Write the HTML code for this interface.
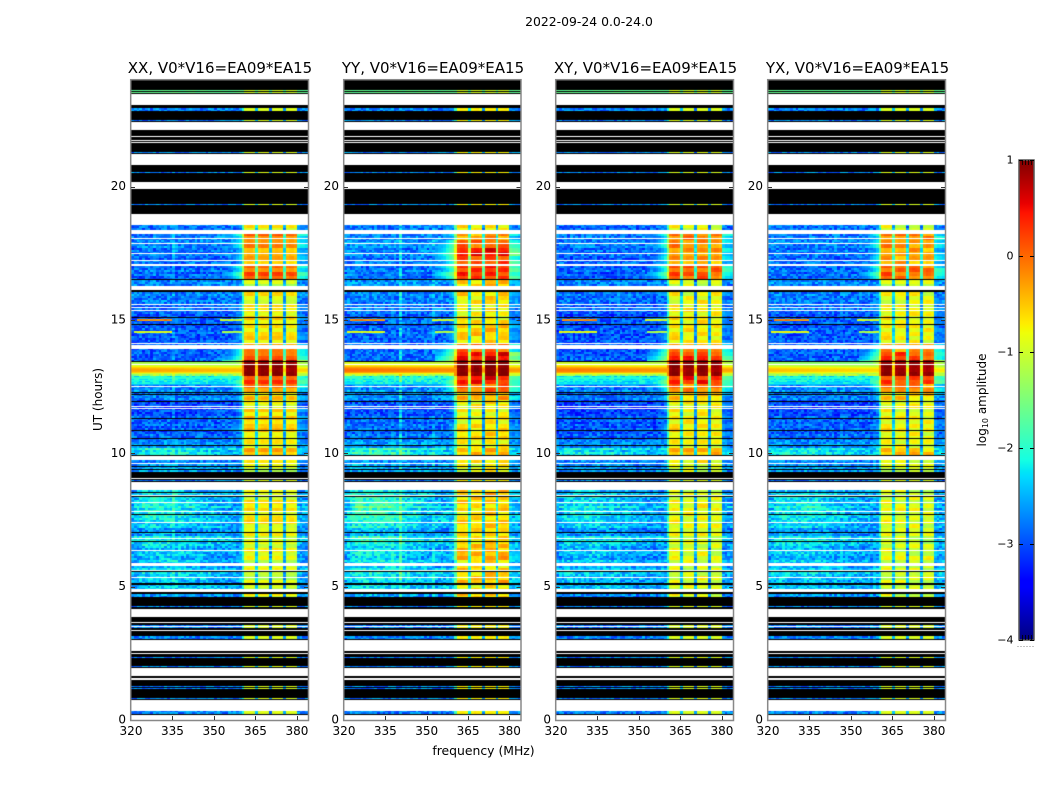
<!DOCTYPE html>
<html>
<head>
<meta charset="utf-8">
<title>2022-09-24 0.0-24.0</title>
<style>
html,body{margin:0;padding:0;background:#fff;width:1050px;height:800px;overflow:hidden}
#figure{position:relative;width:1050px;height:800px;background:#fff}
canvas{position:absolute;display:block}
svg{position:absolute;left:0;top:0}
text{font-family:"DejaVu Sans","Liberation Sans",sans-serif;fill:#000}
</style>
</head>
<body>
<div id="figure">
<canvas id="c0" width="177" height="640" style="left:131px;top:80px"></canvas>
<canvas id="c1" width="177" height="640" style="left:344px;top:80px"></canvas>
<canvas id="c2" width="177" height="640" style="left:556px;top:80px"></canvas>
<canvas id="c3" width="177" height="640" style="left:768px;top:80px"></canvas>
<svg id="overlay" width="1050" height="800">
<defs><linearGradient id="jetGrad" x1="0" y1="1" x2="0" y2="0"></linearGradient></defs>
<text x="589" y="26" text-anchor="middle" font-size="12.4">2022-09-24 0.0-24.0</text>
<text x="483.5" y="755" text-anchor="middle" font-size="12.4">frequency (MHz)</text>
<text transform="translate(102,399.5) rotate(-90)" text-anchor="middle" font-size="12">UT (hours)</text>
<text transform="translate(986,400) rotate(-90)" text-anchor="middle" font-size="12">log<tspan font-size="8" dy="2">10</tspan><tspan dy="-2"> amplitude</tspan></text>
</svg>
</div>
<script>
/* ---- chart data ---- */
const polarisations = ['XX', 'YY', 'XY', 'YX'];
const baselineLabel = 'V0*V16=EA09*EA15';
const xTickLabels = [320, 335, 350, 365, 380];
const yTickLabels = [0, 5, 10, 15, 20];
const colorTickLabels = [1, 0, -1, -2, -3, -4];
const freqStart = 320;
const freqEnd = 384;
const hourStart = 0;
const hourEnd = 24;
const colorMin = -4;
const colorMax = 1;
const rowCount = 640;

/* time-ordered (24h down to 0h) runs of integrations: K flagged-to-zero, W blank, D data, L isolated line, G bright top line */
const rowRuns = [
['K',10],['G',1],['K',1],['G',1],['K',1],['W',11],['K',3],['L',3],['K',9],['L',1],['K',1],['W',8],['K',6],['W',1],['K',3],['W',1],['K',1],['W',1],['K',9],['L',1],['K',1],['W',11],['K',7],['L',1],['K',9],['W',7],['K',15],['L',1],['K',9],['W',11],
['D',5],['W',4],['D',4],['W',1],['D',4],['W',1],['D',9],['W',1],['D',6],['W',1],['D',3],['W',2],['D',13],['K',1],['D',6],['W',4],['K',2],['D',12],['W',1],['D',2],['W',1],['D',2],['W',1],['D',6],['K',1],['D',6],['K',1],['D',18],['W',1],['D',1],['W',4],['D',12],['K',1],['D',2],['W',1],['D',21],['W',1],['D',5],['K',1],['D',1],['K',1],['D',6],['K',1],['D',4],['W',1],['D',1],['W',1],['D',9],['K',1],['D',11],['K',1],['D',7],['K',1],['D',6],['K',1],['D',9],['K',1],['W',4],['D',3],['W',1],['D',2],['K',1],['D',2],['K',1],['D',2],['K',6],['W',1],['K',1],['L',1],['K',1],['W',8],
['D',2],['K',1],['D',2],['W',1],['K',1],['D',5],['W',1],['D',8],['W',1],['D',2],['K',1],['D',7],['W',1],['D',9],['K',1],['D',5],['W',1],['D',2],['K',1],['D',8],['W',1],['D',12],['W',3],['D',4],['W',1],['K',1],['D',5],['W',1],['D',5],['K',2],['D',4],['W',3],['K',2],['D',3],
['K',9],['L',1],['K',2],['W',8],['K',5],['W',1],['K',2],['L',1],['W',1],['L',1],['K',2],['W',1],['K',5],['L',3],['K',1],['W',11],['K',2],['W',1],['K',3],['L',1],['K',8],['L',1],['K',1],['W',8],['K',2],['W',2],['K',6],['L',1],['K',1],['L',1],['K',9],['L',1],['K',1],['W',11],['L',3],['K',1],['W',4]
];

/* piecewise-constant levels (log10 amplitude), one per 0.3 h bin from 4.5 h upward */
const profileStartHour = 4.5;
const profileStepHours = 0.3;
const bandXX = [-.95,-.95,-.95,-.92,-.92,-.88,-.88,-.92,-.82,-.78,-.68,-.66,-.82,-.92,-.9,-.9,-.95,-.6,-.35,-.8,-.7,-.6,-.5,-.7,-.75,-.5,-.2,.3,.95,.95,.05,-.25,-.7,-.65,-.7,-.7,-.7,-.75,-.75,-1,.05,-.05,-.45,-.35,-.3,0,-.85];
const bandYY = [-.55,-.75,-.45,-.5,-.65,-.35,-.45,-.6,-.6,-.55,-.65,-.6,-.55,-.5,-.6,-.6,-.8,-.6,-.45,-.75,-.6,-.65,-.8,-.8,-.75,-.35,.05,.45,.98,.98,.5,0,-.65,-.5,-.55,-.8,-.8,-.6,-.55,-.5,.3,.25,.15,.5,0,-.3,-.7];
const bandXY = [-.95,-.95,-.9,-.95,-.9,-.85,-.95,-.95,-.85,-.85,-.85,-.8,-.9,-.95,-.95,-.95,-.95,-.7,-.4,-.8,-.75,-.7,-.75,-.8,-.8,-.5,-.1,.4,.95,.95,.3,-.2,-.75,-.7,-.7,-.75,-.75,-.8,-.8,-.95,.1,.05,-.3,-.25,-.2,-.1,-.9];
const bandYX = [-1,-1,-.95,-.95,-.95,-.9,-.95,-1,-.9,-.9,-.9,-.85,-.95,-1,-1,-1,-1,-.8,-.45,-.85,-.8,-.75,-.8,-.85,-.85,-.55,-.15,.3,.92,.92,.25,-.25,-.8,-.75,-.75,-.8,-.8,-.85,-.85,-1,.05,0,-.35,-.3,-.25,-.15,-.95];
const bandLevels = [bandXX, bandYY, bandXY, bandYX];
const backgroundLevels = [-2.7,-2.5,-2.5,-2.5,-2.55,-2.6,-2.55,-2.4,-2.7,-2.5,-2.5,-2.5,-2.5,-2.5,-2.6,-2.6,-2.6,-2.75,-2.4,-2.6,-2.85,-2.9,-2.9,-3,-3,-2.75,-2.7,-2.2,-1.2,-2.9,-2.9,-2.85,-2.95,-2.9,-2.9,-2.9,-2.85,-2.8,-2.7,-2.7,-2.85,-2.8,-2.8,-2.8,-2.7,-2.7,-2.8];
const lowBumpLevels = [.1,.2,.25,.25,.3,.35,.3,.35,.2,.4,.5,.6,.55,.35,0,0,.1,.1,.4,0,0,0,0,0,0,0,0,0,0,0,0,0,0,0,0,0,0,0,0,0,0,0,0,0,0,0,0];
const lowBumpGain = [.8, 1.15, .7, .7];
const backgroundGain = [0, .05, -.05, 0];

/* per-channel shapes (64 channels, 320-383 MHz) */
const passband = [-9,-9,-9,-9,-9,-9,-9,-9,-9,-9,-9,-9,-9,-9,-9,-9,-9,-9,-9,-9,-9,-9,-9,-9,-9,-9,-9,-9,-9,-9,-9,-9,-9,-2.9,-2.8,-2.7,-2.6,-2.4,-2.2,-2,-1.2,-.08,0,0,-.08,-1.5,-.08,0,0,-.06,-2,-.06,0,0,-.06,-1.8,-.08,0,0,-.1,-2,-2.1,-2.1,-2.2];
const lowBumpShape = [.1,.3,.6,.8,.9,1,1,1,1,1,1,1,1,1,1,1,.9,.9,.8,.8,.7,.7,.6,.6,.5,.5,.4,.4,.3,.3,.2,.2,.2,.1,.1,.1,.1,0,0,0,0,0,0,0,0,0,0,0,0,0,0,0,0,0,0,0,0,0,0,0,0,0,0,0];
const segmentOffsetXX = [.05,0,.03,-.05];
const segmentOffsetYY = [0,-.03,.04,.02];
const segmentOffsetXY = [.04,-.02,.01,-.03];
const segmentOffsetYX = [.04,-.02,0,-.04];
const segmentOffsets = [segmentOffsetXX, segmentOffsetYY, segmentOffsetXY, segmentOffsetYX];

/* bright flare around 13 UT: one value per integration, earliest row at flareStartHour going down */
const flareStartHour = 13.425;
const flareLevels = [-1.3,-1.2,-1.2,-1.05,-.95,-.75,-.55,-.4,-.3,-.3,-.35,-.55,-.95,-1.4,-2.1,-2.4,-2,-2,-2.3,-2.1,-2.4,-2.3,-2.2,-2.4];
const flareGain = [0, .28, .22, -.15];

/* narrow interference: parallel arrays of hour, first channel, last channel, level */
const rfiHours = [15, 15, 14.55, 14.55];
const rfiFirstChan = [2, 32, 1, 33];
const rfiLastChan = [14, 39, 14, 39];
const rfiLevel = [-.2, -1, -.9, -1.2];

/* faint vertical channels per polarisation */
const spurChannels = [[15], [20, 32], [], []];
const spurBoost = [[.15], [.45, .2], [], []];

const lineBackground = -2.75;
const lineBand = -.9;
const topLineBackground = -1.65;
const topLineBand = -.95;

/* Fine speckle and row streaks are an estimated texture (the individual noise cells were not measured) */
const speckle = [.12,-.22,.31,-.05,-.28,.18,.02,-.33,.25,-.12,.08,.34,-.19,-.02,.21,-.3,.1,-.08,.28,-.24,.15,-.36,.04,.3,-.15,-.27,.2,.07,-.1,.33,-.21,.01,.24,-.31,.13,-.06,.29,-.17,-.34,.17,.05,.26,-.26,-.03,.11,-.2,.35,-.13,.09,-.29,.22,-.07,.16,-.32,.27,.03,-.18,.19,-.25,.06,-.11];
const rowStreak = [.1,-.12,.18,.02,-.2,.06,.22,-.08,-.16,.14,-.02,.2,-.22,.04,.12,-.14,.24,-.06,-.18,.08,.16,-.1,-.24,.2,.01,-.04,.13,-.19,.09];
const bandRipple = [.1,-.18,.22,-.06,.14,-.25,.05,.2,-.14,-.28,.16,.02,-.2,.26,-.1,.12,-.22,.08,.24,-.16,-.04,.18,-.12];

/* jet colormap breakpoints */
const jetRed = [[0,0],[.35,0],[.66,1],[.89,1],[1,.5]];
const jetGreen = [[0,0],[.125,0],[.375,1],[.64,1],[.91,0],[1,0]];
const jetBlue = [[0,.5],[.11,1],[.34,1],[.65,0],[1,0]];

/* ---- layout ---- */
const panelLefts = [131, 344, 556, 768];
const panelWidths = [177, 176.5, 177, 177];
const titleCentres = [220, 433, 645.5, 857.5];
const panelTop = 80;
const panelHeight = 640;
const cbar = {x:1019, y:160, w:15, h:480};

/* ---- scales ---- */
function xScale(p, mhz){ return panelLefts[p] + (mhz - freqStart) / (freqEnd - freqStart) * panelWidths[p]; }
function yScale(hour){ return panelTop + panelHeight - (hour - hourStart) / (hourEnd - hourStart) * panelHeight; }
function colorY(v){ return cbar.y + cbar.h - (v - colorMin) / (colorMax - colorMin) * cbar.h; }
function interp(table, t){
  for (let i = 1; i < table.length; i++) {
    if (t <= table[i][0]) {
      const a = table[i-1], b = table[i];
      return a[1] + (b[1] - a[1]) * (t - a[0]) / (b[0] - a[0]);
    }
  }
  return table[table.length-1][1];
}
function jetColor(v){
  const t = Math.max(0, Math.min(1, (v - colorMin) / (colorMax - colorMin)));
  return 'rgb(' + Math.round(255*interp(jetRed,t)) + ',' + Math.round(255*interp(jetGreen,t)) + ',' + Math.round(255*interp(jetBlue,t)) + ')';
}

const rowStep = (hourEnd - hourStart) / rowCount;
function binIndex(hour){
  const j = Math.floor((hour - profileStartHour) / profileStepHours);
  return Math.max(0, Math.min(backgroundLevels.length - 1, j));
}
function segmentOf(c){ return c < 45 ? 0 : c < 50 ? 1 : c < 55 ? 2 : 3; }

function cellValue(p, row, hour, kind, c){
  const block = Math.floor(row / 2);
  const sp = speckle[(block * block * 11 + block * 37 + c * c * 5 + c * 17 + block * c * 3 + p * 13) % speckle.length];
  const streak = rowStreak[(block * block * 3 + block * 5) % rowStreak.length];
  if (kind === 'L' || kind === 'G') {
    const bg = kind === 'G' ? topLineBackground : lineBackground;
    const bd = kind === 'G' ? topLineBand : lineBand + (p === 1 ? .2 : 0);
    return Math.max(bg + sp * (kind === 'G' ? .2 : 1), bd + passband[c] + sp * .15);
  }
  const j = binIndex(hour);
  const bump = lowBumpLevels[j] * lowBumpGain[p];
  let bg = backgroundLevels[j] + backgroundGain[p] + bump * lowBumpShape[c] + sp + streak * (.4 + .8 * bump);
  const spurs = spurChannels[p];
  for (let s = 0; s < spurs.length; s++) if (spurs[s] === c) bg += spurBoost[p][s];
  const off = c >= 40 && c < 60 ? segmentOffsets[p][segmentOf(c)] : 0;
  const level = bandLevels[p][j];
  const ripple = bandRipple[(Math.floor(row / 4) + segmentOf(c) * p) % bandRipple.length];
  const band = level + passband[c] + off + ripple * (level > .9 ? .2 : 1) + sp * .12;
  let v = Math.max(bg, band);
  const fi = Math.floor((flareStartHour - hour) / rowStep + .5);
  if (fi >= 0 && fi < flareLevels.length) {
    const boost = flareLevels[fi] > -1.5 ? flareGain[p] : 0;
    v = Math.max(v, flareLevels[fi] + boost - c * .004 + sp * .04);
  }
  for (let r = 0; r < rfiHours.length; r++) {
    if (Math.abs(rfiHours[r] - hour) < rowStep && c >= rfiFirstChan[r] && c <= rfiLastChan[r]) {
      v = Math.max(v, rfiLevel[r] + sp * .6);
    }
  }
  return v;
}

function drawHeatmap(p){
  const ctx = document.getElementById('c' + p).getContext('2d');
  const left = panelLefts[p];
  let row = 0;
  rowRuns.forEach(function(run){
    for (let n = 0; n < run[1]; n++, row++) {
      if (run[0] === 'W') continue;
      const topH = hourEnd - row * rowStep;
      const midH = topH - rowStep / 2;
      const y0 = Math.round(yScale(topH)) - panelTop;
      const y1 = Math.round(yScale(topH - rowStep)) - panelTop;
      if (run[0] === 'K') {
        ctx.fillStyle = '#000';
        ctx.fillRect(0, y0, 178, y1 - y0);
        continue;
      }
      for (let c = 0; c < freqEnd - freqStart; c++) {
        const x0 = Math.round(xScale(p, freqStart + c)) - left;
        const x1 = Math.round(xScale(p, freqStart + c + 1)) - left;
        ctx.fillStyle = jetColor(cellValue(p, row, midH, run[0], c));
        ctx.fillRect(x0, y0, x1 - x0, y1 - y0);
      }
    }
  });
}

const svg = document.getElementById('overlay');
const NS = 'http://www.w3.org/2000/svg';
function make(tag, parent){
  const el = document.createElementNS(NS, tag);
  (parent || svg).appendChild(el);
  return el;
}
function line(parent, x1, y1, x2, y2, color, width){
  const el = make('line', parent);
  el.setAttribute('x1', x1);
  el.setAttribute('y1', y1);
  el.setAttribute('x2', x2);
  el.setAttribute('y2', y2);
  el.setAttribute('stroke', color);
  el.setAttribute('stroke-width', width);
  return el;
}

polarisations.forEach(function(pol, p){
  drawHeatmap(p);
  const left = panelLefts[p], right = left + panelWidths[p];
  const key = pol.toLowerCase();

  const g = make('g');
  
  

  const frame = make('rect', g);
  frame.setAttribute('x', left - .3);
  frame.setAttribute('y', panelTop - .3);
  frame.setAttribute('width', panelWidths[p] + .8);
  frame.setAttribute('height', panelHeight + .8);
  frame.setAttribute('fill', 'none');
  frame.setAttribute('stroke', '#888');
  frame.setAttribute('stroke-width', '1.5');
  
  

  const title = make('text', g);
  title.setAttribute('x', titleCentres[p]);
  title.setAttribute('y', 73);
  title.setAttribute('text-anchor', 'middle');
  title.setAttribute('font-size', '15');
  title.textContent = pol + ', ' + baselineLabel;
  
  

  xTickLabels.forEach(function(v){
    const x = Math.round(xScale(p, v)) + .5;
    if (v !== xTickLabels[0]) {
      const tb = line(g, x, panelTop + panelHeight, x, panelTop + panelHeight - 4, '#333', 1);
      
      
    }
    const t = make('text', g);
    t.setAttribute('x', xScale(p, v));
    t.setAttribute('y', 735);
    t.setAttribute('text-anchor', 'middle');
    t.setAttribute('font-size', '12');
    t.textContent = v;
    
    
  });

  yTickLabels.forEach(function(v){
    const y = Math.round(yScale(v)) + .5;
    if (v !== yTickLabels[0]) {
      const tl = line(g, left, y, left + 4, y, '#333', 1);
      
      
      const tr = line(g, right, y, right - 4, y, '#333', 1);
      
      
    }
    const t = make('text', g);
    t.setAttribute('x', left - 5);
    t.setAttribute('y', yScale(v) + 3.5);
    t.setAttribute('text-anchor', 'end');
    t.setAttribute('font-size', '12');
    t.textContent = v;
    
    
  });
});

/* colour bar */
const grad = document.getElementById('jetGrad');
const stopPositions = [];
[jetRed, jetGreen, jetBlue].forEach(function(tbl){ tbl.forEach(function(s){ stopPositions.push(s[0]); }); });
stopPositions.sort(function(a, b){ return a - b; }).forEach(function(t){
  const st = document.createElementNS(NS, 'stop');
  st.setAttribute('offset', t);
  st.setAttribute('stop-color', jetColor(colorMin + t * (colorMax - colorMin)));
  grad.appendChild(st);
});

const cb = make('g');



const ramp = make('rect', cb);
ramp.setAttribute('x', cbar.x);
ramp.setAttribute('y', cbar.y);
ramp.setAttribute('width', cbar.w);
ramp.setAttribute('height', cbar.h);
ramp.setAttribute('fill', 'url(#jetGrad)');
ramp.setAttribute('stroke', '#555');
ramp.setAttribute('stroke-width', '1.5');



colorTickLabels.forEach(function(v){
  const y = Math.round(colorY(v)) + .5;
  const a = line(cb, cbar.x, y, cbar.x + 4, y, '#000', 1);
  
  
  const b = line(cb, cbar.x + cbar.w - 4, y, cbar.x + cbar.w, y, '#000', 1);
  
  
  const t = make('text', cb);
  t.setAttribute('x', cbar.x - 5.5);
  t.setAttribute('y', colorY(v) + 3.5);
  t.setAttribute('text-anchor', 'end');
  t.setAttribute('font-size', '11');
  t.textContent = v < 0 ? '\u2212' + Math.abs(v) : String(v);
  
  
});

for (let i = 0; i < 4; i++) {
  const x = cbar.x + 3.5 + i * 3;
  const top = line(cb, x, cbar.y, x, cbar.y + 5, '#000', .8);
  
  
  const bottom = line(cb, x, cbar.y + cbar.h - 5, x, cbar.y + cbar.h, '#000', .8);
  
  
}
for (let i = 0; i < 6; i++) {
  const dot = make('rect', cb);
  dot.setAttribute('x', 1017.5 + i * 3);
  dot.setAttribute('y', 646);
  dot.setAttribute('width', 1);
  dot.setAttribute('height', 1);
  dot.setAttribute('fill', '#888');
  
  
}
</script>
</body>
</html>
